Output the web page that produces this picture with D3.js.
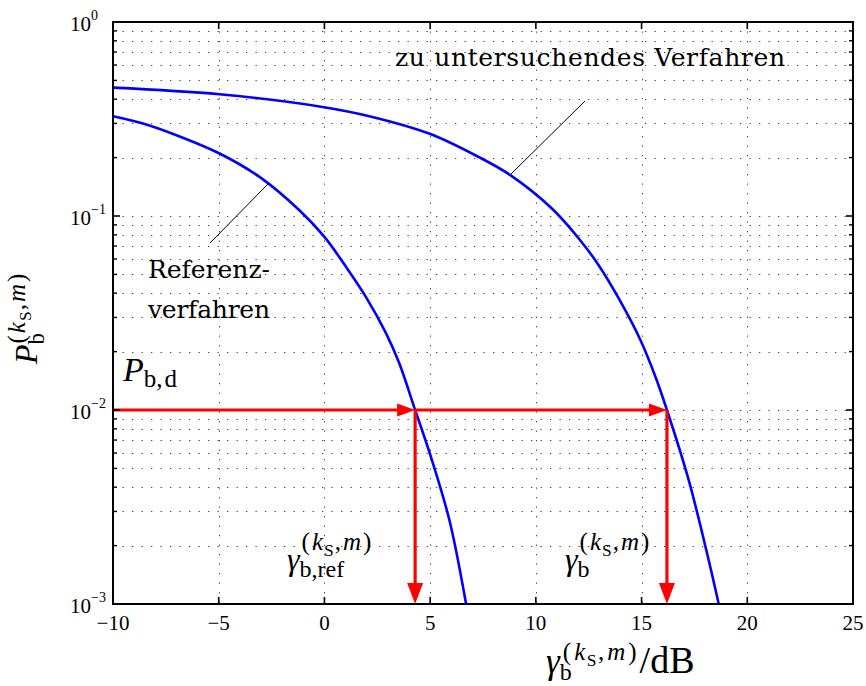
<!DOCTYPE html>
<html>
<head>
<meta charset="utf-8">
<script src="https://cdn.jsdelivr.net/npm/d3@7"></script>
<style>
  html, body { margin: 0; padding: 0; background: #fff; }
  svg { display: block; }
</style>
</head>
<body>
<svg id="chart" width="866" height="686"></svg>
<script>
// Bit error probability versus SNR for the reference scheme and the scheme under test
const snrRef = [-10, -8.58, -7.0, -4.96, -3.07, -1.185, 0.0, 1.02, 1.96, 2.91, 3.54, 4.29, 5.0, 5.91, 6.70];
const berRef = [0.327, 0.300, 0.261, 0.210, 0.159, 0.107, 0.078, 0.0547, 0.0383, 0.0249, 0.0174, 0.0100, 0.0059, 0.00271, 0.00100];

const snrTest = [-10, -4.96, -0.09, 2.12, 4.95, 7.31, 8.81, 10.77, 12.03, 12.97, 13.92, 14.95, 15.66, 16.20, 17.23, 18.17, 18.64];
const berTest = [0.459, 0.424, 0.365, 0.327, 0.266, 0.201, 0.162, 0.109, 0.0766, 0.0558, 0.0376, 0.0229, 0.0148, 0.0100, 0.00435, 0.00169, 0.00101];

// Target error probability and the SNR values where each curve reaches it
const targetBer = 0.01;
const snrAtTarget = [4.29, 16.2];

const xTicks = [-10, -5, 0, 5, 10, 15, 20, 25];
const yTicks = [1, 0.1, 0.01, 0.001];
const yTickExponents = ["0", "\u22121", "\u22122", "\u22123"];

const mathFont = "'Liberation Serif', 'Times New Roman', Times, serif";
const textFont = "'DejaVu Serif', serif";

const svg = d3.select("#chart");
const plotLeft = 113, plotRight = 853, plotTop = 22, plotBottom = 604;

const x = d3.scaleLinear().domain([-10, 25]).range([plotLeft, plotRight]);
const y = d3.scaleLog().domain([0.001, 1]).range([plotBottom, plotTop]);

// minor log grid values (2..9 per decade)
const minorY = [];
[0.001, 0.01, 0.1].forEach(d => { for (let k = 2; k <= 9; k++) minorY.push(d * k); });

const grid = svg.append("g").attr("stroke", "#444").attr("stroke-width", 1)
  .attr("stroke-dasharray", "1.3,8.2").attr("fill", "none");
grid.selectAll("line.h").data(minorY.concat([0.1, 0.01])).join("line")
  .attr("x1", plotLeft).attr("x2", plotRight)
  .attr("y1", d => Math.round(y(d)) + 0.5).attr("y2", d => Math.round(y(d)) + 0.5);
grid.selectAll("line.v").data(xTicks.slice(1, -1)).join("line")
  .attr("y1", plotTop).attr("y2", plotBottom)
  .attr("x1", d => Math.round(x(d)) + 0.5).attr("x2", d => Math.round(x(d)) + 0.5);

// curves
const line = d3.line().x(d => x(d[0])).y(d => y(d[1])).curve(d3.curveCatmullRom.alpha(0.5));
svg.append("path").datum(d3.zip(snrRef, berRef)).attr("d", line)
  .attr("fill", "none").attr("stroke", "#0000ff").attr("stroke-width", 2.6);
svg.append("path").datum(d3.zip(snrTest, berTest)).attr("d", line)
  .attr("fill", "none").attr("stroke", "#0000ff").attr("stroke-width", 2.6);

// pointer lines from labels to curves
svg.append("line").attr("x1", 510).attr("y1", 175).attr("x2", 585).attr("y2", 101)
  .attr("stroke", "#000").attr("stroke-width", 1);
svg.append("line").attr("x1", 268).attr("y1", 184).attr("x2", 210).attr("y2", 243)
  .attr("stroke", "#000").attr("stroke-width", 1);

// red arrows
const red = "#ff0000";
const arrows = svg.append("g");
const yT = y(targetBer);
function hArrow(x0, x1) {
  arrows.append("line").attr("x1", x0).attr("x2", x1 - 14).attr("y1", yT).attr("y2", yT)
    .attr("stroke", red).attr("stroke-width", 3.2);
  arrows.append("path").attr("d", `M${x1},${yT} L${x1 - 18},${yT - 6.5} L${x1 - 18},${yT + 6.5} Z`).attr("fill", red);
}
function vArrow(xp) {
  arrows.append("line").attr("x1", xp).attr("x2", xp).attr("y1", yT).attr("y2", plotBottom - 18)
    .attr("stroke", red).attr("stroke-width", 3.2);
  arrows.append("path").attr("d", `M${xp},${plotBottom} L${xp - 8},${plotBottom - 21} L${xp + 8},${plotBottom - 21} Z`).attr("fill", red);
}
hArrow(x(-10), x(snrAtTarget[0]));
hArrow(x(snrAtTarget[0]), x(snrAtTarget[1]));
vArrow(x(snrAtTarget[0]));
vArrow(x(snrAtTarget[1]));

// frame and ticks
const axes = svg.append("g").attr("stroke", "#000").attr("fill", "none");
axes.append("rect").attr("x", plotLeft).attr("y", plotTop).attr("width", plotRight - plotLeft).attr("height", plotBottom - plotTop)
  .attr("stroke-width", 2);
xTicks.slice(1, -1).forEach(t => {
  axes.append("line").attr("x1", x(t)).attr("x2", x(t)).attr("y1", plotBottom).attr("y2", plotBottom - 7).attr("stroke-width", 1.6);
  axes.append("line").attr("x1", x(t)).attr("x2", x(t)).attr("y1", plotTop).attr("y2", plotTop + 7).attr("stroke-width", 1.6);
});
yTicks.slice(1, -1).forEach(t => {
  axes.append("line").attr("x1", plotLeft).attr("x2", plotLeft + 7).attr("y1", y(t)).attr("y2", y(t)).attr("stroke-width", 1.6);
  axes.append("line").attr("x1", plotRight).attr("x2", plotRight - 7).attr("y1", y(t)).attr("y2", y(t)).attr("stroke-width", 1.6);
});
minorY.forEach(t => {
  axes.append("line").attr("x1", plotLeft).attr("x2", plotLeft + 4).attr("y1", y(t)).attr("y2", y(t)).attr("stroke-width", 1.4);
  axes.append("line").attr("x1", plotRight).attr("x2", plotRight - 4).attr("y1", y(t)).attr("y2", y(t)).attr("stroke-width", 1.4);
});

// tick labels
const fs = 21;
svg.append("g").selectAll("text").data(xTicks).join("text")
  .attr("font-family", mathFont)
  .attr("x", d => x(d)).attr("y", 630).attr("text-anchor", "middle")
  .attr("font-size", fs).text(d => d < 0 ? "\u2212" + Math.abs(d) : String(d));
const yl = svg.append("g").attr("font-family", mathFont);
yTicks.forEach((t, i) => {
  const tx = yl.append("text").attr("x", 70).attr("y", y(t) + 9).attr("font-size", fs);
  tx.append("tspan").text("10");
  tx.append("tspan").attr("dy", -11).attr("font-size", 14).text(yTickExponents[i]);
});

// math label: symbol with subscript and superscript "(k_S,m)" stacked after it
function mathLabel(parent, x0, y0, opts) {
  const t = parent.append("text").attr("font-family", mathFont).attr("x", x0).attr("y", y0)
    .attr("font-size", opts.size);
  if (opts.transform) t.attr("transform", opts.transform);
  const sym = t.append("tspan").attr("font-style", "italic").text(opts.symbol);
  const w = sym.node().getComputedTextLength();
  t.append("tspan").attr("dy", opts.subDy).attr("font-size", opts.subSize).text(opts.sub);
  const s = opts.supSize, sp = opts.supSpacing;
  t.append("tspan").attr("x", x0 + w + opts.supGap).attr("dy", -opts.subDy - opts.supRise)
    .attr("font-size", s).text("(");
  t.append("tspan").attr("dx", sp).attr("font-size", s).attr("font-style", "italic").text("k");
  t.append("tspan").attr("dx", sp * 0.5).attr("font-size", s * 0.7).attr("dy", s * 0.25).text("S");
  t.append("tspan").attr("dx", sp * 0.5).attr("font-size", s).attr("dy", -s * 0.25).text(",");
  t.append("tspan").attr("dx", sp).attr("font-size", s).attr("font-style", "italic").text("m");
  t.append("tspan").attr("dx", sp).attr("font-size", s).text(")");
  if (opts.tail) t.append("tspan").attr("dx", opts.tailDx).attr("dy", opts.supRise)
    .attr("font-size", opts.tailSize).text(opts.tail);
  return t;
}

// y axis title (rotated)
mathLabel(svg, 0, 0, {
  transform: "translate(37,364) rotate(-90)", symbol: "P", size: 32,
  sub: "b", subSize: 23, subDy: 7, supSize: 25, supRise: 12, supGap: 1, supSpacing: 2
});

// x axis title
mathLabel(svg, 546, 673, {
  symbol: "\u03b3", size: 35, sub: "b", subSize: 24, subDy: 7,
  supSize: 25, supRise: 13, supGap: 3, supSpacing: 3, tail: "/dB", tailDx: 3, tailSize: 38
});

// gamma labels at the arrow feet
mathLabel(svg, 287, 570, {
  symbol: "\u03b3", size: 32, sub: "b,ref", subSize: 24, subDy: 7,
  supSize: 25, supRise: 20, supGap: 2, supSpacing: 2
});
mathLabel(svg, 565, 570, {
  symbol: "\u03b3", size: 32, sub: "b", subSize: 24, subDy: 7,
  supSize: 25, supRise: 20, supGap: 2, supSpacing: 2
});

// target probability label
const pbd = svg.append("text").attr("font-family", mathFont).attr("x", 123).attr("y", 381).attr("font-size", 34);
pbd.append("tspan").attr("font-style", "italic").text("P");
pbd.append("tspan").attr("dy", 6).attr("font-size", 25).text("b,");
pbd.append("tspan").attr("dx", 2).attr("font-size", 25).text("d");

// curve annotations
svg.append("text").attr("font-family", textFont).attr("x", 395).attr("y", 66).attr("font-size", 25)
  .attr("textLength", 390).attr("lengthAdjust", "spacing").text("zu untersuchendes Verfahren");
svg.append("text").attr("font-family", textFont).attr("x", 148).attr("y", 278).attr("font-size", 25)
  .attr("textLength", 122).attr("lengthAdjust", "spacing").text("Referenz-");
svg.append("text").attr("font-family", textFont).attr("x", 148).attr("y", 318).attr("font-size", 25)
  .attr("textLength", 122).attr("lengthAdjust", "spacing").text("verfahren");
</script>
</body>
</html>
